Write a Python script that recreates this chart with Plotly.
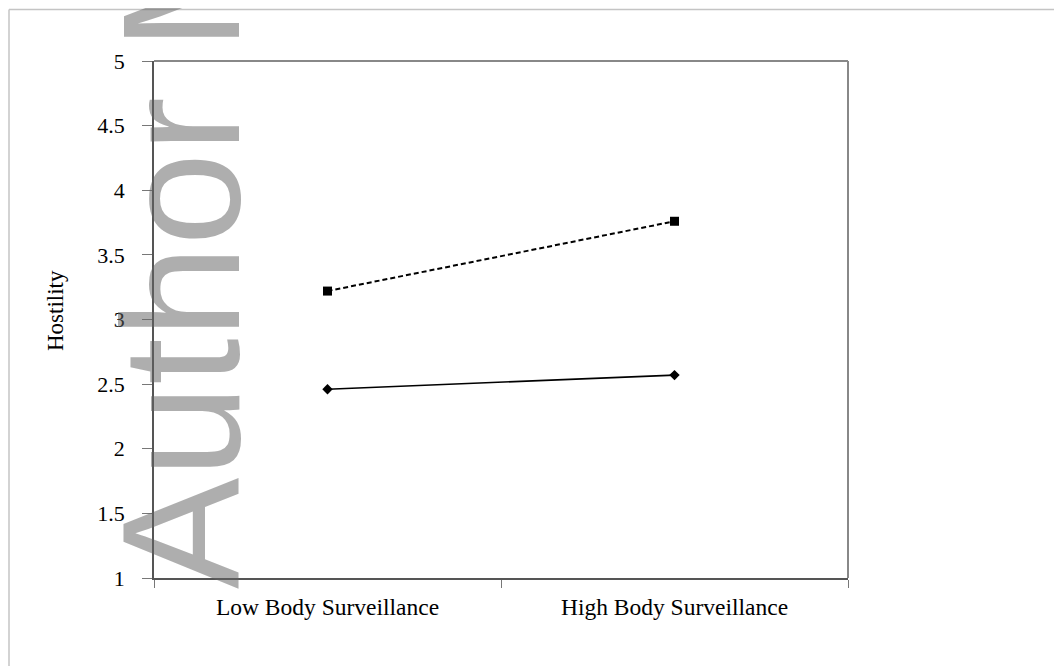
import plotly.graph_objects as go

categories = ["Low Body Surveillance", "High Body Surveillance"]
series_dashed = [3.22, 3.76]
series_solid = [2.46, 2.57]
y_tickvals = [1, 1.5, 2, 2.5, 3, 3.5, 4, 4.5, 5]
y_ticktext = ["1", "1.5", "2", "2.5", "3", "3.5", "4", "4.5", "5"]
y_title = "Hostility"
watermark = "Author M"

# page has an 8px body margin; work in page pixel coordinates
OFF = 8
W, H = 1062 - OFF, 666 - OFF
PL, PR, PT, PB = 154, 848, 61, 578  # plot area in page pixels
ML, MR, MT, MB = PL - OFF, W - (PR - OFF), PT - OFF, H - (PB - OFF)
PW, PH = PR - PL, PB - PT

def px_x(p):
    return (p - PL) / PW

def px_y(p):
    return 1 - (p - PT) / PH

serif = "Liberation Serif, Times New Roman, serif"

fig = go.Figure()
fig.add_trace(go.Scatter(
    x=categories, y=series_dashed, mode="lines+markers",
    line=dict(color="black", width=2, dash="5px,3px"),
    marker=dict(symbol="square", size=9, color="black"),
    showlegend=False, cliponaxis=False))
fig.add_trace(go.Scatter(
    x=categories, y=series_solid, mode="lines+markers",
    line=dict(color="black", width=1.6),
    marker=dict(symbol="diamond", size=8, color="black"),
    showlegend=False, cliponaxis=False))

fig.update_layout(
    width=W, height=H,
    margin=dict(l=ML, r=MR, t=MT, b=MB, pad=0),
    paper_bgcolor="white", plot_bgcolor="white",
    font=dict(family=serif, size=18, color="black"),
    xaxis=dict(type="category", tickson="boundaries", ticks="outside", ticklen=8,
               tickcolor="#777", showline=True, linecolor="#555", linewidth=1.5,
               showgrid=False, zeroline=False, ticklabelstandoff=7,
               tickfont=dict(family=serif, size=23.5), range=[-0.5, 1.5]),
    yaxis=dict(range=[1, 5], tickvals=y_tickvals, ticktext=y_ticktext,
               ticks="outside", ticklen=10, tickcolor="#777", showline=True,
               linecolor="#555", linewidth=1.5, showgrid=False, zeroline=False,
               ticklabelstandoff=13,
               tickfont=dict(family=serif, size=22)),
)

# y-axis title
fig.add_annotation(text=y_title, xref="paper", yref="paper",
                   x=px_x(55), y=px_y(311), xanchor="center", yanchor="middle",
                   textangle=-90, showarrow=False,
                   font=dict(family=serif, size=23, color="black"))

# plot frame (top and right borders)
fig.add_shape(type="line", xref="paper", yref="paper", x0=0, x1=1, y0=1, y1=1,
              line=dict(color="#888", width=2))
fig.add_shape(type="line", xref="paper", yref="paper", x0=1, x1=1, y0=0, y1=1,
              line=dict(color="#888", width=2))
# outer figure frame
fig.add_shape(type="line", xref="paper", yref="paper", x0=px_x(9), x1=px_x(1070),
              y0=px_y(9.5), y1=px_y(9.5), line=dict(color="#c4c4c4", width=1.5))
fig.add_shape(type="line", xref="paper", yref="paper", x0=px_x(9), x1=px_x(9),
              y0=px_y(9.5), y1=px_y(700), line=dict(color="#c4c4c4", width=1.5))

# watermark
fig.add_annotation(text=watermark, xref="paper", yref="paper",
                   x=px_x(181), y=px_y(250), xanchor="center", yanchor="middle",
                   textangle=-90, showarrow=False,
                   font=dict(family="Liberation Sans, Arial, sans-serif", size=167,
                             color="rgba(100,100,100,0.52)"))

fig.write_html("out.html")
